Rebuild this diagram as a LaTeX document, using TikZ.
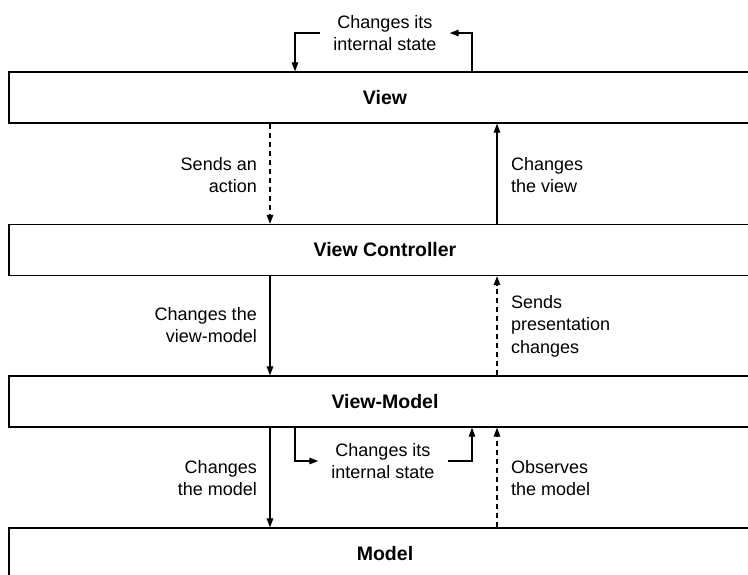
\documentclass[tikz,border=0pt]{standalone}
\usepackage{fontspec}
\setmainfont{Liberation Sans}
\usetikzlibrary{arrows.meta,calc}

\begin{document}
\begin{tikzpicture}[x=1pt,y=-1pt,
  layer/.style={draw,line width=1.3pt,rectangle,minimum width=752pt,minimum height=51pt,
    inner sep=0pt,font=\fontsize{19.5}{22}\selectfont\bfseries},
  arr/.style={line width=1.2pt,-{Triangle[length=9pt,width=6.5pt]}},
  dsh/.style={arr,dash pattern=on 5pt off 4pt},
  lbl/.style={inner sep=0pt,font=\fontsize{18}{22.5}\selectfont},
  lleft/.style={lbl,anchor=east,align=right},
  lright/.style={lbl,anchor=west,align=left},
  loop/.style={lbl,align=center,inner xsep=13pt}]
  \clip (0,0) rectangle (748,574);

  % layers
  \node[layer] (view)  at (385,97.5)  {View};
  \node[layer] (vc)    at (385,250)   {View Controller};
  \node[layer] (vm)    at (385,401.5) {View-Model};
  \node[layer] (model) at (385,553.5) {Model};

  % columns of the connectors
  \coordinate (lx) at (270,0);
  \coordinate (rx) at (497,0);
  \coordinate (ix) at (295,0);
  \coordinate (ox) at (472,0);

  % View changes its own state
  \node[loop] (vloop) at (385,33) {Changes its\\internal state};
  \draw[arr] (vloop.west) -| (view.north -| ix);
  \draw[arr] (view.north -| ox) |- (vloop.east);

  % View <-> View Controller
  \draw[dsh] (view.south -| lx) -- (vc.north -| lx);
  \draw[arr] (vc.north -| rx) -- (view.south -| rx);
  \node[lleft]  (l1) at (257,175) {Sends an\\action};
  \node[lright] (r1) at (511,175) {Changes\\the view};

  % View Controller <-> View-Model
  \draw[arr] (vc.south -| lx) -- (vm.north -| lx);
  \draw[dsh] (vm.north -| rx) -- (vc.south -| rx);
  \node[lleft]  (l2) at (257,325) {Changes the\\view-model};
  \node[lright] (r2) at (511,326) {Sends\\presentation\\changes};

  % View-Model changes its own state
  \node[loop] (mloop) at (383,461) {Changes its\\internal state};
  \draw[arr] (vm.south -| ix) |- (mloop.west);
  \draw[arr] (mloop.east) -| (vm.south -| ox);

  % View-Model <-> Model
  \draw[arr] (vm.south -| lx) -- (model.north -| lx);
  \draw[dsh] (model.north -| rx) -- (vm.south -| rx);
  \node[lleft]  (l3) at (257,478) {Changes\\the model};
  \node[lright] (r3) at (511,478) {Observes\\the model};
\end{tikzpicture}
\end{document}
